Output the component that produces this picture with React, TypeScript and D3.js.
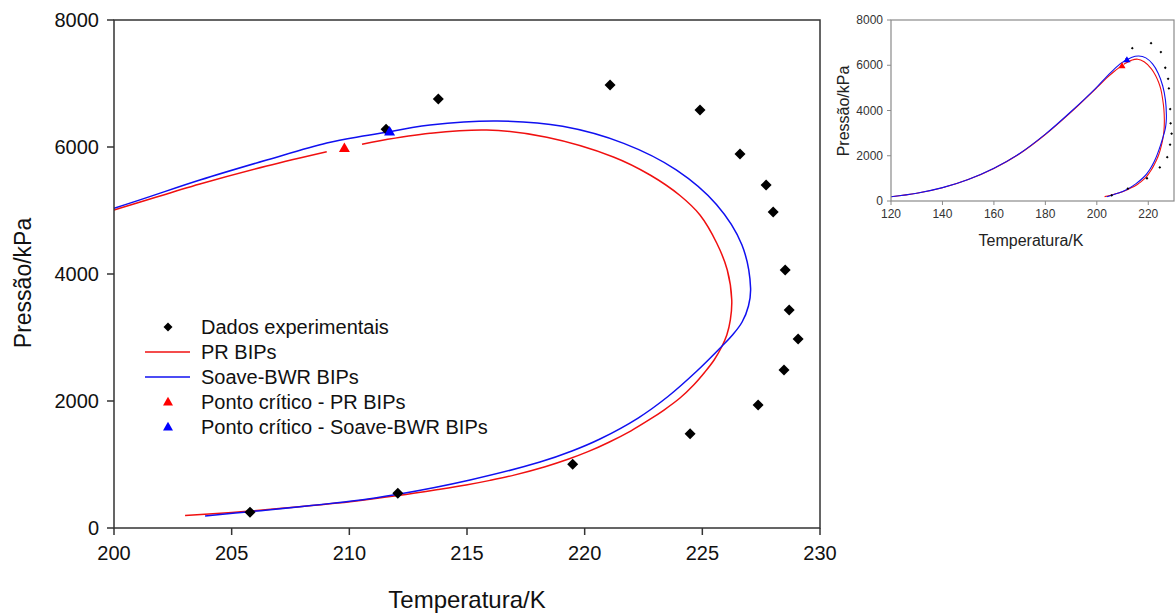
import React from 'react';
import * as d3 from 'd3';

// ---------- data ----------
const xTicksMain = [200, 205, 210, 215, 220, 225, 230];
const yTicksMain = [0, 2000, 4000, 6000, 8000];
const xTicksInset = [120, 140, 160, 180, 200, 220];
const yTicksInset = [0, 2000, 4000, 6000, 8000];

const expT = [205.78, 212.06, 219.49, 224.48, 227.37, 228.47, 229.07, 228.69, 228.52, 228.01, 227.71, 226.6, 224.9, 221.08, 213.78, 211.56];
const expP = [250, 548, 1005, 1485, 1937, 2488, 2976, 3433, 4063, 4976, 5400, 5890, 6583, 6976, 6756, 6280];

// PR BIPs: branch up to the critical point, and branch from critical point around the nose
const prUpperT = [120, 130, 140, 150, 160, 170, 180, 190, 200, 203.65, 206.49, 209.04];
const prUpperP = [185, 340, 585, 950, 1440, 2090, 2940, 3930, 5008, 5417, 5701, 5926];
const prLowerT = [210.54, 211.3, 213.43, 215.84, 218.39, 221.22, 222.78, 224.05, 224.9, 225.61, 226.06, 226.25, 226.19, 226.04, 225.82, 225.5, 225.11, 224.63, 224.05, 223.37, 222.73, 221.97, 221.03, 220.14, 219.29, 218.32, 217.0, 215.98, 214.96, 213.77, 212.07, 210.03, 207.01, 205.01, 203.02];
const prLowerP = [6043, 6099, 6216, 6268, 6153, 5843, 5559, 5236, 4929, 4488, 4063, 3591, 3276, 3039, 2850, 2646, 2457, 2252, 2047, 1858, 1701, 1531, 1351, 1202, 1082, 965, 833, 750, 677, 605, 510, 413, 306, 246, 195];

// Soave-BWR BIPs
const sbUpperT = [120, 130, 140, 150, 160, 170, 180, 190, 200, 203.65, 206.49, 209.04, 210.58, 211.71];
const sbUpperP = [190, 345, 590, 955, 1450, 2100, 2955, 3955, 5036, 5480, 5795, 6063, 6173, 6241];
const sbLowerT = [211.71, 213.43, 216.28, 219.06, 221.66, 223.89, 225.6, 226.68, 227.05, 226.96, 226.69, 226.3, 225.82, 224.77, 223.54, 222.27, 220.65, 219.46, 218.1, 215.13, 212.07, 210.03, 205.78, 203.87];
const sbLowerP = [6241, 6346, 6409, 6326, 6057, 5639, 5094, 4460, 3780, 3496, 3244, 3047, 2858, 2472, 2071, 1732, 1402, 1213, 1039, 756, 531, 420, 257, 189];

const prCritT = 209.79, prCritP = 5980;
const sbCritT = 211.71, sbCritP = 6241;

const legendLabels = ['Dados experimentais', 'PR BIPs', 'Soave-BWR BIPs', 'Ponto crítico - PR BIPs', 'Ponto crítico - Soave-BWR BIPs'];

// ---------- styles ----------
const RED = '#f01010';
const BLUE = '#1010f0';
const FONT = '"Liberation Sans", Arial, sans-serif';

const zip = (t: number[], p: number[]) => t.map((v, i) => [v, p[i]] as [number, number]);

const diamond = (r: number) => `M0,${-r}L${r},0L0,${r}L${-r},0Z`;
const triangle = (s: number) => {
  const h = (s * Math.sqrt(3)) / 2;
  return `M0,${-h * 0.6}L${s / 2},${h * 0.4}L${-s / 2},${h * 0.4}Z`;
};

function Plot(props: {
  x0: number; x1: number; y0: number; y1: number; xDom: [number, number];
  xTicks: number[]; yTicks: number[]; small: boolean; id: string;
}) {
  const { x0, x1, y0, y1, xDom, xTicks, yTicks, small, id } = props;
  const x = d3.scaleLinear().domain(xDom).range([x0, x1]);
  const y = d3.scaleLinear().domain([0, 8000]).range([y1, y0]);
  const line = d3.line<[number, number]>()
    .x((d) => x(d[0]))
    .y((d) => y(d[1]))
    .curve(d3.curveCatmullRom.alpha(0.5));
  const axisColor = small ? '#8a8a8a' : '#333';
  const textColor = small ? '#333' : '#111';
  const tickLen = small ? 4 : 7;
  const tickFont = small ? 12 : 20;
  const lw = small ? 1.1 : 1.5;
  const dR = small ? 1.4 : 5.5;
  const triS = small ? 7 : 11;
  return (
    <g>
      <defs>
        <clipPath id={id}>
          <rect x={x0} y={y0} width={x1 - x0} height={y1 - y0} />
        </clipPath>
      </defs>
      <g clipPath={`url(#${id})`}>
        <path d={line(zip(prUpperT, prUpperP)) || ''} fill="none" stroke={RED} strokeWidth={lw} />
        <path d={line(zip(prLowerT, prLowerP)) || ''} fill="none" stroke={RED} strokeWidth={lw} />
        <path d={line(zip(sbUpperT, sbUpperP)) || ''} fill="none" stroke={BLUE} strokeWidth={lw} />
        <path d={line(zip(sbLowerT, sbLowerP)) || ''} fill="none" stroke={BLUE} strokeWidth={lw} />
        {expT.map((t, i) => (
          <path key={i} d={diamond(dR)} transform={`translate(${x(t)},${y(expP[i])})`} fill="#000" />
        ))}
        <path d={triangle(triS)} transform={`translate(${x(prCritT)},${y(prCritP)})`} fill="#f00" />
        <path d={triangle(triS)} transform={`translate(${x(sbCritT)},${y(sbCritP)})`} fill="#00f" />
      </g>
      <rect x={x0} y={y0} width={x1 - x0} height={y1 - y0} fill="none" stroke={axisColor} strokeWidth={small ? 1.2 : 1.5} />
      {xTicks.map((t) => (
        <g key={t}>
          <line x1={x(t)} x2={x(t)} y1={y1} y2={y1 + tickLen} stroke={axisColor} strokeWidth={small ? 1 : 1.5} />
          <text x={x(t)} y={small ? y1 + 17 : y1 + 32} textAnchor="middle" fontSize={tickFont} fill={textColor} fontFamily={FONT}>{t}</text>
        </g>
      ))}
      {yTicks.map((t) => (
        <g key={t}>
          <line x1={x0 - tickLen} x2={x0} y1={y(t)} y2={y(t)} stroke={axisColor} strokeWidth={small ? 1 : 1.5} />
          <text x={small ? x0 - 8 : x0 - 15} y={y(t) + (small ? 4 : 7)} textAnchor="end" fontSize={tickFont} fill={textColor} fontFamily={FONT}>{t}</text>
        </g>
      ))}
    </g>
  );
}

export default function App() {
  const legendY = [327, 352, 377, 402, 427];
  return (
    <svg width={1175} height={615} style={{ position: 'absolute', left: 0, top: 0, background: '#fff' }} fontFamily={FONT}>
      <rect x={0} y={0} width={1175} height={615} fill="#fff" />
      <Plot x0={114} x1={820} y0={20} y1={528} xDom={[200, 230]} xTicks={xTicksMain} yTicks={yTicksMain} small={false} id="clipMain" />
      <text x={467} y={608} textAnchor="middle" fontSize={24} fill="#111">Temperatura/K</text>
      <text transform="translate(31,283) rotate(-90)" textAnchor="middle" fontSize={23} fill="#111">Pressão/kPa</text>

      {/* legend */}
      <g>
        <path d={diamond(4.5)} transform={`translate(168,${legendY[0]})`} fill="#000" />
        <line x1={145} x2={190} y1={legendY[1]} y2={legendY[1]} stroke={RED} strokeWidth={1.5} />
        <line x1={145} x2={190} y1={legendY[2]} y2={legendY[2]} stroke={BLUE} strokeWidth={1.5} />
        <path d={triangle(10)} transform={`translate(168,${legendY[3]})`} fill="#f00" />
        <path d={triangle(10)} transform={`translate(168,${legendY[4]})`} fill="#00f" />
        {legendLabels.map((l, i) => (
          <text key={l} x={201} y={legendY[i] + 7} fontSize={20} fill="#111">{l}</text>
        ))}
      </g>

      {/* inset */}
      <Plot x0={891} x1={1174} y0={20} y1={201} xDom={[120, 230]} xTicks={xTicksInset} yTicks={yTicksInset} small={true} id="clipInset" />
      <text x={1031} y={246} textAnchor="middle" fontSize={16} fill="#222">Temperatura/K</text>
      <text transform="translate(849,111) rotate(-90)" textAnchor="middle" fontSize={16} fill="#222">Pressão/kPa</text>
    </svg>
  );
}
